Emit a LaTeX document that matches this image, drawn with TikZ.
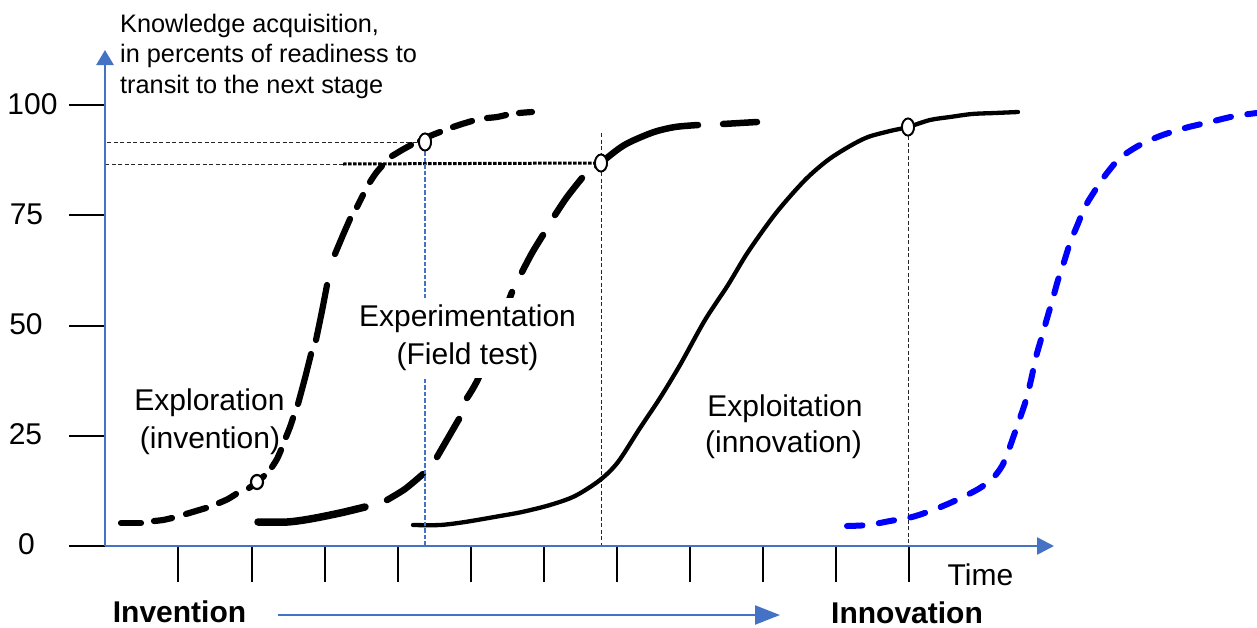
\documentclass[tikz,border=0pt]{standalone}
\usepackage{fontspec}
\setmainfont{Liberation Sans}
\usetikzlibrary{arrows.meta,shapes.geometric}
\definecolor{axisblue}{HTML}{4472C4}
\definecolor{pureblue}{HTML}{0000FF}
\begin{document}
\begin{tikzpicture}[x=1pt,y=-1pt,
  axisline/.style={draw=axisblue, line width=2.6pt},
  tickmark/.style={line width=2pt, black},
  guide/.style={line width=1pt, black!85, dash pattern=on 4pt off 2.5pt},
  thickdot/.style={line width=3pt, black, dash pattern=on 3.5pt off 1.5pt},
  bluedot/.style={line width=2.8pt, axisblue, dash pattern=on 4.5pt off 2pt},
  cone/.style={line width=6.2pt, line cap=round, line join=round},
  ctwo/.style={line width=6.5pt, line cap=round, line join=round},
  cthree/.style={line width=4.3pt, line cap=round, line join=round},
  cfour/.style={line width=6pt, pureblue, line cap=round, dash pattern=on 15.5pt off 16.5pt},
  mk/.style={ellipse, draw=black, fill=white, line width=1.8pt, minimum width=12pt, minimum height=17pt, inner sep=0pt},
  lab/.style={font=\fontsize{30}{36}\selectfont, inner sep=0pt, anchor=base},
  labb/.style={font=\fontsize{30}{36}\selectfont\bfseries, inner sep=0pt, anchor=base},
  ttl/.style={font=\fontsize{25.3}{30}\selectfont, inner sep=0pt, anchor=base west},
]
\useasboundingbox (0,0) rectangle (1257,627);

% coordinates of the axes
\coordinate (O) at (105,546);
\coordinate (ytop) at (105,50);
\coordinate (xend) at (1054,546);

% markers
\node[mk] (m1) at (425,142) {};
\node[mk] (m2) at (601,163) {};
\node[mk] (m3) at (908,127) {};

% guide lines
\coordinate (g1) at (107,142);
\coordinate (g2) at (105,164);
\coordinate (g3) at (343,164);
\coordinate (g4) at (601,133);
\draw[guide] (g1) -- (m1.west);
\draw[guide] (g2) -- (g3);
\draw[thickdot] (g3) -- (m2.west);
\draw[guide] (g4) -- (m2.north);
\draw[guide] (m2.south) -- (m2 |- O);
\draw[guide] (m3.south) -- (m3 |- O);

% y ticks and labels
\foreach \yy/\lbl/\cx in {105.3/100/32.5, 215.4/75/26.5, 325.5/50/26, 435.6/25/25.5, 545.7/0/26.5}{
  \draw[tickmark] (69,\yy) -- (105,\yy);
  \node[lab] (y\lbl) at (\cx,\yy+8.7) {\lbl};
}
% x ticks
\foreach \k in {0,...,10}{
  \draw[tickmark] (178.4+73.1*\k,546) -- (178.4+73.1*\k,582);
}

% axes
\draw[axisline, -{Triangle[length=15pt,width=17pt]}] (O) -- (ytop);
\draw[axisline, -{Triangle[length=17pt,width=17pt]}] (O) -- (xend);

% axis title
\node[ttl] (t1) at (120,32) {Knowledge acquisition,};
\node[ttl] (t2) at (120,62.5) {in percents of readiness to};
\node[ttl] (t3) at (120,93) {transit to the next stage};

% curve 1 (exploration), dashed
\draw[cone] plot[smooth] coordinates {(121,523) (141,523)};
\draw[cone] plot[smooth] coordinates {(154,521) (163,520) (172,518)};
\draw[cone] plot[smooth] coordinates {(186,514) (196,511) (206,508)};
\draw[cone] plot[smooth] coordinates {(219,503) (228,499) (236,494)};
\draw[cone] plot[smooth] coordinates {(249,488) (256,483) (264,476)};
\draw[cone] plot[smooth] coordinates {(272,467) (277,459) (281,450)};
\draw[cone] plot[smooth] coordinates {(286,437) (290,427) (293,418)};
\draw[cone] plot[smooth] coordinates {(298,404) (305,378) (311,354)};
\draw[cone] plot[smooth] coordinates {(316,340) (322,311) (327,285)};
\draw[cone] plot[smooth] coordinates {(335,254) (343,235) (350,219)};
\draw[cone] plot[smooth] coordinates {(357,207) (363,195)};
\draw[cone] plot[smooth] coordinates {(370,182) (376,173) (382,166)};
\draw[cone] plot[smooth] coordinates {(392,156) (402,150) (411,145)};
\draw[cone] plot[smooth] coordinates {(420,141) (430,136) (440,132)};
\draw[cone] plot[smooth] coordinates {(453,127) (462,124) (472,121)};
\draw[cone] plot[smooth] coordinates {(487,118) (497,117) (506,115)};
\draw[cone] plot[smooth] coordinates {(519,113) (525,112.5) (532,112)};

% curve 2 (experimentation), dashed
\draw[ctwo, line width=7.5pt] plot[smooth] coordinates {(258,522) (287,522) (310,519) (340,513) (365,507)};
\draw[ctwo] plot[smooth] coordinates {(387,500) (405,489) (423,474)};
\draw[ctwo] plot[smooth] coordinates {(437,457) (448,438) (459,419)};
\draw[ctwo] plot[smooth] coordinates {(467,398) (478,379) (495,337) (512,292)};
\draw[ctwo] plot[smooth] coordinates {(522,272) (532,253) (543,235)};
\draw[ctwo] plot[smooth] coordinates {(555,215) (567,197) (582,178)};
\draw[ctwo] plot[smooth] coordinates {(597,166) (617,150) (630,142) (654,132) (675,127) (698,125)};
\draw[ctwo] plot[smooth] coordinates {(723,124) (740,123) (757,122)};

% curve 3 (exploitation), solid
\draw[cthree] plot[smooth, tension=0.5] coordinates {(413,525) (440,525) (465,522) (500,516) (522,512) (550,505) (575,496) (600,480) (618,462) (640,428) (660,398) (680,365) (705,320) (728,285) (748,252) (776,213) (805,180) (828,160) (850,146) (868,137) (890,131) (908,127) (930,120) (950,117) (972,114) (995,113) (1018,112)};

% curve 4 (next cycle), blue dashed
\draw[cfour] plot[smooth, tension=0.5] coordinates {(847,526) (868,525) (890,521) (912,517) (933,510) (950,503) (965,496) (980,488) (993,478) (1002,466) (1008,452) (1014,435) (1020,418) (1026,400) (1031,380) (1036,357) (1042,336) (1048,315) (1053,298) (1058,280) (1064,262) (1070,243) (1077,226) (1085,207) (1094,192) (1104,177) (1119,159) (1138,146) (1160,136) (1185,128) (1210,122) (1235,116) (1257,113)};

% blue dashed vertical from marker 1
\draw[bluedot] (m1.south) -- (m1 |- O);

% small marker on curve 1
\node[mk, minimum width=12pt, minimum height=14pt, line width=2.2pt] (m0) at (257,482) {};
% redraw markers on top
\node[mk] (m1b) at (m1) {};
\node[mk] (m2b) at (m2) {};
\node[mk] (m3b) at (m3) {};

% stage labels
\node[lab] (ex1) at (209.5,410) {Exploration};
\node[lab] (ex2) at (210,448) {(invention)};
\node[fill=white, inner sep=0pt, minimum width=232pt, minimum height=80pt] (expbg) at (467.5,337.5) {};
\node[lab] (ep1) at (467.5,326.7) {Experimentation};
\node[lab] (ep2) at (467.5,364) {(Field test)};
\node[lab] (eo1) at (785,416.7) {Exploitation};
\node[lab] (eo2) at (783.5,452) {(innovation)};
\node[lab] (time) at (980.5,585) {Time};

% bottom arrow
\node[labb] (inv) at (179.5,622) {Invention};
\node[labb] (innov) at (907,623) {Innovation};
\coordinate (as) at (278,615);
\coordinate (ae) at (780,615);
\draw[axisblue, line width=2.2pt, -{Triangle[length=25pt,width=19pt]}] (as) -- (ae);
\end{tikzpicture}
\end{document}
